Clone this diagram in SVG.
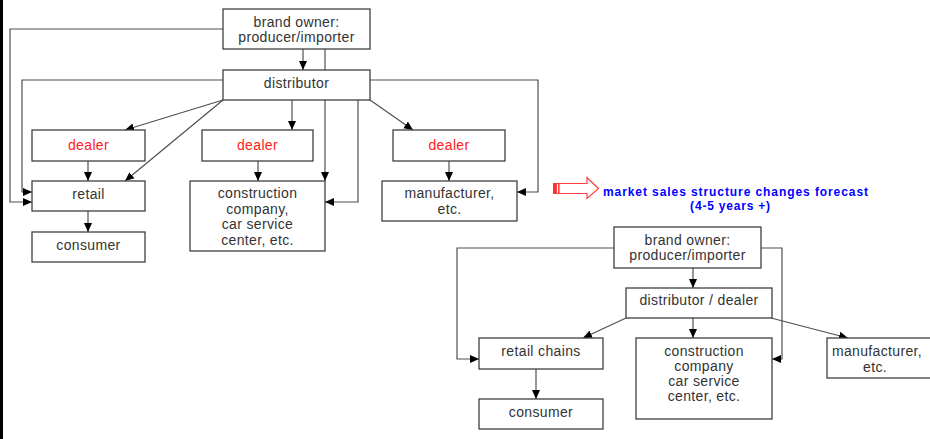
<svg xmlns="http://www.w3.org/2000/svg" width="930" height="439" viewBox="0 0 930 439">
<defs>
<marker id="ah" markerUnits="userSpaceOnUse" markerWidth="10" markerHeight="10" viewBox="0 0 10 10" refX="9" refY="5" orient="auto">
<path d="M0,1 L9,5 L0,9 z" fill="#000"/>
</marker>
</defs>
<style>
.box{fill:#fff;stroke:#404040;stroke-width:1.3}
.t{font-family:"Liberation Sans",Arial,sans-serif;font-size:14px;letter-spacing:0.35px;fill:#333;text-anchor:middle}
.r{fill:#ff2020}
.c{fill:none;stroke:#505050;stroke-width:1.2}
.a{marker-end:url(#ah)}
.bl{font-family:"Liberation Sans",Arial,sans-serif;font-size:12px;font-weight:bold;fill:#0000ff;text-anchor:middle}
</style>
<rect x="0" y="0" width="930" height="439" fill="#fff"/>
<rect x="0" y="0" width="3" height="439" fill="#000"/>

<g id="connectors">
<path class="c a" d="M303,49 V70"/>
<path class="c a" d="M325,49 V181"/>
<path class="c a" d="M223,29 H10 V202 H32"/>
<path class="c a" d="M223,80 H22 V192 H32"/>
<path class="c a" d="M223,100 L125,130"/>
<path class="c a" d="M223,100 L125,181"/>
<path class="c a" d="M292,100 V130"/>
<path class="c a" d="M358,100 V202 H325"/>
<path class="c a" d="M370,100 L413,130"/>
<path class="c a" d="M370,80 H538 V192 H517"/>
<path class="c a" d="M88,161 V181"/>
<path class="c a" d="M88,211 V232"/>
<path class="c a" d="M258,161 V181"/>
<path class="c a" d="M449,161 V181"/>
<path class="c a" d="M693,268 V288"/>
<path class="c a" d="M614,248 H457 V359 H479"/>
<path class="c a" d="M761,248 H782 V359 H772"/>
<path class="c a" d="M626,318 L583,338"/>
<path class="c a" d="M693,318 V338"/>
<path class="c a" d="M771,318 L848,338"/>
<path class="c a" d="M536,369 V399"/>
</g>

<g id="brand-owner">
<rect class="box" x="223" y="9" width="147" height="40"/>
<text class="t" x="296.5" y="27">brand owner:</text>
<text class="t" x="296.5" y="42">producer/importer</text>
</g>
<g id="distributor">
<rect class="box" x="223" y="70" width="147" height="30"/>
<text class="t" x="296.5" y="88">distributor</text>
</g>
<g id="dealer-1">
<rect class="box" x="32" y="130" width="113" height="31"/>
<text class="t r" x="88.5" y="150">dealer</text>
</g>
<g id="dealer-2">
<rect class="box" x="202" y="130" width="111" height="31"/>
<text class="t r" x="257.5" y="150">dealer</text>
</g>
<g id="dealer-3">
<rect class="box" x="393" y="130" width="112" height="31"/>
<text class="t r" x="449" y="150">dealer</text>
</g>
<g id="retail">
<rect class="box" x="32" y="181" width="113" height="30"/>
<text class="t" x="88.5" y="199">retail</text>
</g>
<g id="consumer">
<rect class="box" x="32" y="232" width="113" height="30"/>
<text class="t" x="88.5" y="250">consumer</text>
</g>
<g id="construction">
<rect class="box" x="190" y="181" width="135" height="70"/>
<text class="t" x="257.5" y="198">construction</text>
<text class="t" x="257.5" y="213.5">company,</text>
<text class="t" x="257.5" y="229">car service</text>
<text class="t" x="257.5" y="244.5">center, etc.</text>
</g>
<g id="manufacturer">
<rect class="box" x="382" y="181" width="135" height="40"/>
<text class="t" x="449.5" y="198">manufacturer,</text>
<text class="t" x="449.5" y="213.5">etc.</text>
</g>

<g id="forecast-arrow">
<rect x="553.5" y="183.5" width="3" height="10" fill="#ff3030" stroke="#ff3030" stroke-width="1"/>
<rect x="556.5" y="183.5" width="2" height="10" fill="#fff" stroke="#ff4040" stroke-width="1"/>
<path d="M559,183.5 H587 V177.5 L598.5,188.5 L587,198.5 V193.5 H559 z" fill="#fff" stroke="#ff4040" stroke-width="1.2"/>
</g>
<g id="forecast-label">
<text class="bl" x="735.5" y="196" textLength="265" lengthAdjust="spacing">market sales structure changes forecast</text>
<text class="bl" x="730.5" y="210" style="letter-spacing:0.8px">(4-5 years +)</text>
</g>

<g id="brand-owner-2">
<rect class="box" x="614" y="227" width="147" height="41"/>
<text class="t" x="687.5" y="244.5">brand owner:</text>
<text class="t" x="687.5" y="260">producer/importer</text>
</g>
<g id="distributor-dealer">
<rect class="box" x="626" y="288" width="146" height="30"/>
<text class="t" x="699" y="305">distributor / dealer</text>
</g>
<g id="retail-chains">
<rect class="box" x="479" y="338" width="124" height="31"/>
<text class="t" x="541" y="356">retail chains</text>
</g>
<g id="consumer-2">
<rect class="box" x="479" y="399" width="124" height="30"/>
<text class="t" x="541" y="417">consumer</text>
</g>
<g id="construction-2">
<rect class="box" x="636" y="338" width="136" height="81"/>
<text class="t" x="704" y="356">construction</text>
<text class="t" x="704" y="371">company</text>
<text class="t" x="704" y="386">car service</text>
<text class="t" x="704" y="401">center, etc.</text>
</g>
<g id="manufacturer-2">
<rect class="box" x="827" y="338" width="110" height="40"/>
<text class="t" x="877" y="356">manufacturer,</text>
<text class="t" x="875" y="371.5">etc.</text>
</g>
</svg>
